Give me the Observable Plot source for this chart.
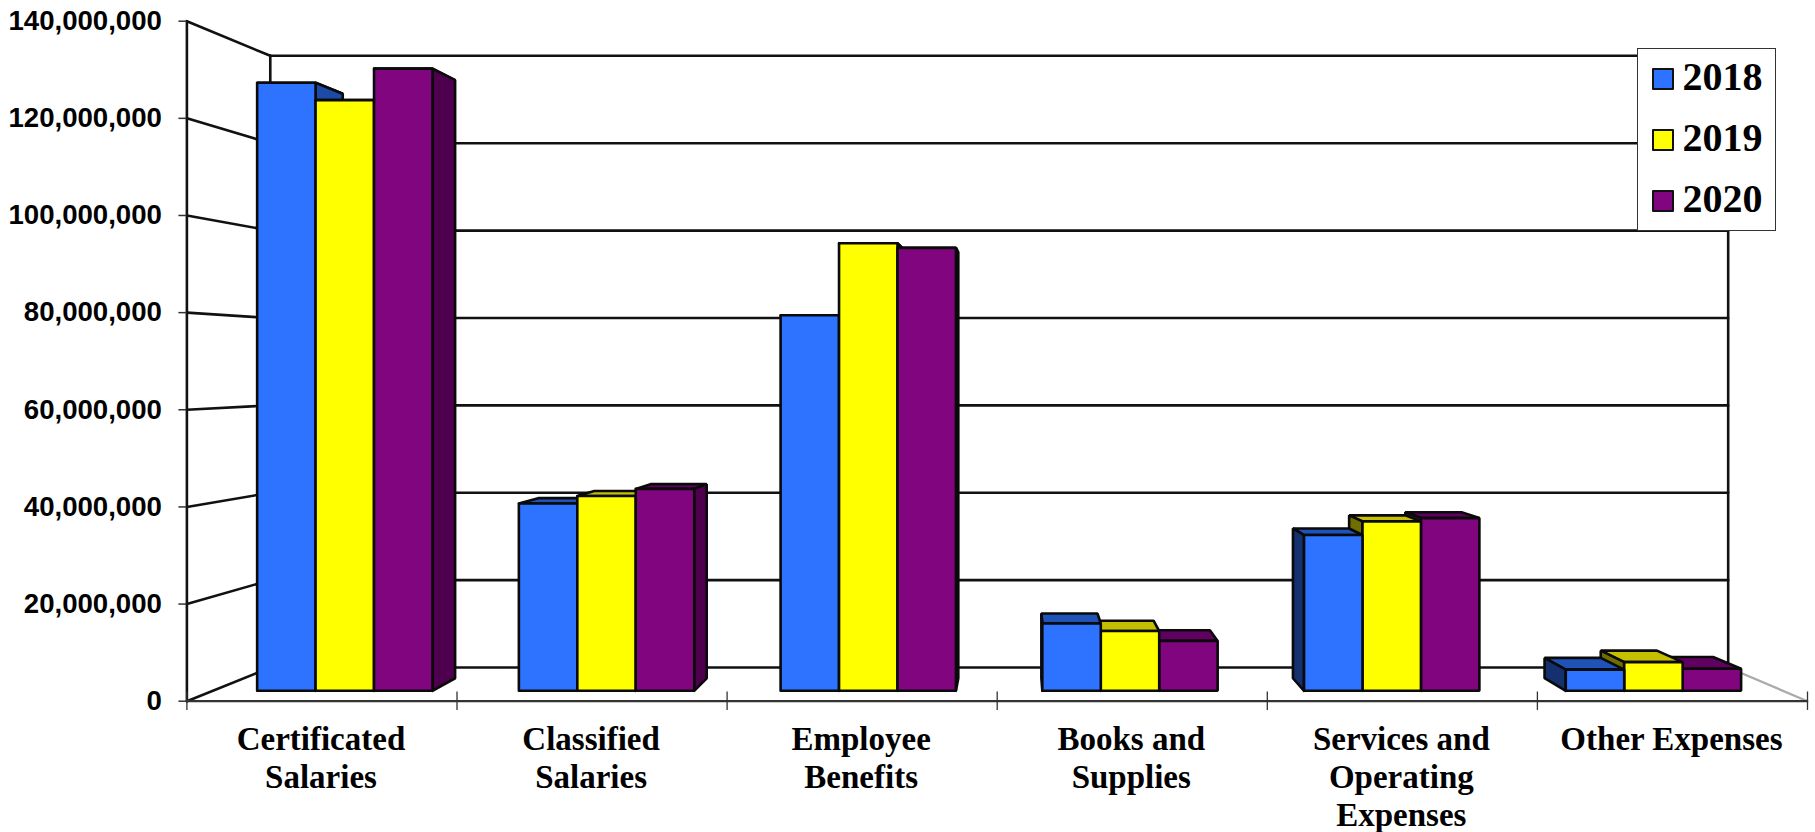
<!DOCTYPE html>
<html>
<head>
<meta charset="utf-8">
<script src="https://cdn.jsdelivr.net/npm/d3@7"></script>
<script src="https://cdn.jsdelivr.net/npm/@observablehq/plot@0.6"></script>
<style>
html,body{margin:0;padding:0;background:#fff;}
#wrap{position:relative;width:1815px;height:832px;overflow:hidden;}
#legend{position:absolute;left:1637px;top:48px;width:137px;height:181px;background:#fff;border:1px solid #333;box-sizing:content-box;}
.row{position:absolute;left:0;height:40px;width:137px;}
.sw{position:absolute;left:14px;top:0;width:18px;height:18px;border:2.5px solid #111;border-radius:1px;}
.lb{position:absolute;left:44.5px;top:-11px;font:bold 40px/40px "Liberation Serif",serif;color:#000;}
</style>
</head>
<body>
<div id="wrap"><div id="legend"></div></div>
<script>
const categories = ["Certificated\nSalaries","Classified\nSalaries","Employee\nBenefits","Books and\nSupplies","Services and\nOperating\nExpenses","Other Expenses"];
const years = ["2018","2019","2020"];
const values2018 = [129.2e6, 39.8e6, 79.8e6, 14.3e6, 33.1e6, 4.5e6];
const values2019 = [125.5e6, 41.4e6, 95.1e6, 12.7e6, 36.0e6, 6.1e6];
const values2020 = [132.2e6, 42.9e6, 94.1e6, 10.6e6, 36.7e6, 4.7e6];
const valueTicks = [0,20e6,40e6,60e6,80e6,100e6,120e6,140e6];

const series = [values2018, values2019, values2020];
const frontColor = ["#2e73ff","#ffff00","#820580"];
const topColor = ["#1f53b8","#c4c000","#600060"];
const rightColor = ["#1c4aa6","#6f6f00","#4e004e"];
const leftColor = ["#14306e","#6f6f00","#4e004e"];

// One-point perspective, in data units
const vanishU = 3.075, vanishV = 69.0e6;
const wallDepth = 0.8996, barFront = 0.969, barBack = 0.9315;
const barStart = 0.17, barWidth = 0.2233;
const px = (u, s) => vanishU + s * (u - vanishU);
const py = (v, s) => vanishV + s * (v - vanishV);

const faces = [];
let faceId = 0;
function poly(fill, corners){
  const id = faceId++;
  [...corners, corners[0]].forEach(([u,v,s]) => faces.push({id, fill, x: px(u,s), y: py(v,s)}));
}
const bars = [];
categories.forEach((c,i) => series.forEach((vals,j) => {
  const u0 = i + barStart + j*barWidth;
  bars.push({j, u0, u1: u0 + barWidth, v: vals[i]});
}));
// Bars nearer the viewer's axis hide the ones further out: paint the outer ones first
bars.sort((a,b) => Math.abs((b.u0+b.u1)/2 - vanishU) - Math.abs((a.u0+a.u1)/2 - vanishU));
const F = barFront, B = barBack;
for (const b of bars) {
  poly(topColor[b.j], [[b.u0,b.v,F],[b.u1,b.v,F],[b.u1,b.v,B],[b.u0,b.v,B]]);
  if (b.u1 <= vanishU) poly(rightColor[b.j], [[b.u1,0,F],[b.u1,b.v,F],[b.u1,b.v,B],[b.u1,0,B]]);
  else if (b.u0 >= vanishU) poly(leftColor[b.j], [[b.u0,0,F],[b.u0,b.v,F],[b.u0,b.v,B],[b.u0,0,B]]);
  poly(frontColor[b.j], [[b.u0,0,F],[b.u1,0,F],[b.u1,b.v,F],[b.u0,b.v,F]]);
}

// Walls
const wall = [];
let wallId = 0;
function seg(a,b){ const id = wallId++; [a,b].forEach(([u,v,s]) => wall.push({id, x:px(u,s), y:py(v,s)})); }
const W = wallDepth, topValue = valueTicks[valueTicks.length-1];
valueTicks.forEach(v => { seg([0,v,W],[6,v,W]); seg([0,v,1],[0,v,W]); });
seg([0,0,W],[0,topValue,W]);
seg([6,0,W],[6,topValue,W]);
seg([0,0,1],[0,topValue,1]);

const chart = Plot.plot({
  width: 1815, height: 832,
  marginLeft: 186.4, marginRight: 8, marginTop: 20.7, marginBottom: 131.3,
  x: {domain:[0,6], axis:null},
  y: {domain:[0,topValue], axis:null},
  style: {background:"#fff", overflow:"visible"},
  marks: [
    Plot.line(wall, {x:"x", y:"y", z:"id", stroke:"#111", strokeWidth:2.6}),
    Plot.line([{x:px(6,1),y:py(0,1)},{x:px(6,W),y:py(0,W)}], {x:"x", y:"y", stroke:"#aaa", strokeWidth:2.2}),
    Plot.ruleY([0], {x1:0, x2:6, stroke:"#333", strokeWidth:2.2}),
    Plot.ruleX(d3.range(7), {x:d=>d, y1:-1.9e6, y2:1.9e6, stroke:"#333", strokeWidth:1.3}),
    Plot.line(faces, {x:"x", y:"y", z:"id", fill:{value:"fill", scale:null}, stroke:"#0a0a0a", strokeWidth:2.6, strokeLinejoin:"miter"}),
    Plot.axisY({ticks:valueTicks, tickSize:8, tickPadding:17, tickFormat:d3.format(","), label:null,
      fontSize:27.6, fontWeight:"bold", fontFamily:"Liberation Sans", stroke:"#333", strokeWidth:1.5, fill:"#000"}),
    Plot.axisX({ticks:d3.range(6).map(i=>i+0.5), tickSize:0, tickPadding:21.5, dx:-1,
      tickFormat:d=>categories[d-0.5], label:null, fontSize:33, fontWeight:"bold",
      fontFamily:"Liberation Serif", lineHeight:1.16, fill:"#000"})
  ]
});
const wrap = document.getElementById("wrap");
wrap.insertBefore(chart, wrap.firstChild);
chart.style.display = "block";
chart.style.maxWidth = "none";

const legend = document.getElementById("legend");
years.forEach((y,i) => {
  const r = document.createElement("div");
  r.className = "row";
  r.style.top = (19 + i*61) + "px";
  const s = document.createElement("div"); s.className = "sw"; s.style.background = frontColor[i];
  const l = document.createElement("div"); l.className = "lb"; l.textContent = y;
  r.append(s,l); legend.append(r);
});
</script>
</body>
</html>
